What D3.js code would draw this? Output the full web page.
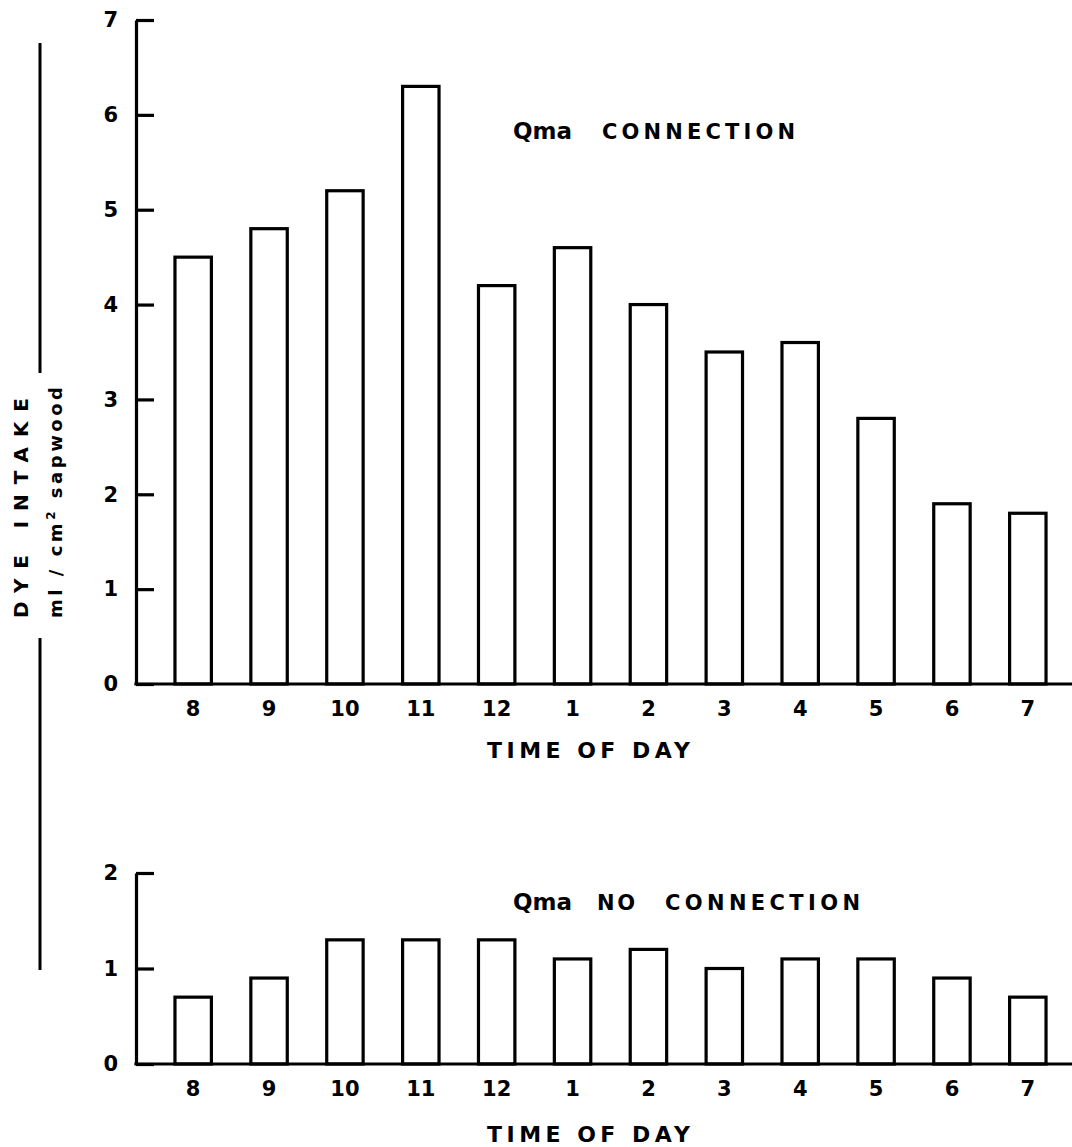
<!DOCTYPE html>
<html>
<head>
<meta charset="utf-8">
<script src="https://cdn.jsdelivr.net/npm/d3@7"></script>
<style>
  body { margin: 0; background: #fff; }
  text { font-family: "DejaVu Sans", sans-serif; font-weight: bold; fill: #000; }
  .tick text { font-family: "DejaVu Sans", sans-serif; }
</style>
</head>
<body>
<svg id="chart" width="1072" height="1147"></svg>
<script>
// time of day, 8 am to 7 pm
const hours = ["8", "9", "10", "11", "12", "1", "2", "3", "4", "5", "6", "7"];
const connection = [4.5, 4.8, 5.2, 6.3, 4.2, 4.6, 4.0, 3.5, 3.6, 2.8, 1.9, 1.8];
const noConnection = [0.7, 0.9, 1.3, 1.3, 1.3, 1.1, 1.2, 1.0, 1.1, 1.1, 0.9, 0.7];
const topTicks = [0, 1, 2, 3, 4, 5, 6, 7];
const bottomTicks = [0, 1, 2];

const svg = d3.select("#chart");
const axisX = 136;

const x = d3.scaleBand()
  .domain(hours)
  .range([156, 1065])
  .paddingInner(0.52)
  .paddingOuter(0.25);

function drawPanel(values, yDomain, yRange, ticks, title) {
  const y = d3.scaleLinear().domain(yDomain).range(yRange);

  // bars
  svg.append("g")
    .selectAll("rect")
    .data(values)
    .join("rect")
    .attr("x", (d, i) => x(hours[i]))
    .attr("y", d => y(d))
    .attr("width", x.bandwidth())
    .attr("height", d => y(0) - y(d))
    .attr("fill", "#fff")
    .attr("stroke", "#000")
    .attr("stroke-width", 3.2);

  // y axis, ticks pointing inward
  const gy = svg.append("g")
    .attr("transform", "translate(" + axisX + ",0)")
    .call(d3.axisLeft(y).tickValues(ticks).tickFormat(d3.format("d"))
      .tickSizeInner(-18).tickSizeOuter(0).tickPadding(18));
  gy.select(".domain").attr("stroke-width", 3.2);
  gy.selectAll(".tick line").attr("stroke-width", 3.2);
  gy.selectAll(".tick text").attr("font-size", 21).attr("font-family", null);

  // x axis baseline runs to the edge
  svg.append("line")
    .attr("x1", axisX - 1.6).attr("x2", 1072)
    .attr("y1", y(0)).attr("y2", y(0))
    .attr("stroke", "#000").attr("stroke-width", 3.2);

  const gx = svg.append("g")
    .attr("transform", "translate(0," + y(0) + ")")
    .call(d3.axisBottom(x).tickSize(0).tickPadding(17));
  gx.select(".domain").remove();
  gx.selectAll(".tick text").attr("font-size", 21).attr("font-family", null);

  // panel title
  title.forEach(t => {
    svg.append("text")
      .attr("x", t.x).attr("y", t.y)
      .attr("font-size", t.f)
      .attr("textLength", t.w)
      .attr("lengthAdjust", "spacing")
      .text(t.s);
  });
}

drawPanel(connection, [0, 7], [684, 20], topTicks, [
  { s: "Qma", x: 513, y: 139, w: 59, f: 23 },
  { s: "CONNECTION", x: 602, y: 139, w: 193, f: 21 }
]);

drawPanel(noConnection, [0, 2], [1064, 873], bottomTicks, [
  { s: "Qma", x: 513, y: 910, w: 59, f: 23 },
  { s: "NO", x: 597, y: 910, w: 38, f: 21 },
  { s: "CONNECTION", x: 665, y: 910, w: 195, f: 21 }
]);

// x axis titles
[758, 1142].forEach(yy => {
  svg.append("text")
    .attr("x", 487).attr("y", yy)
    .attr("font-size", 22)
    .attr("textLength", 203)
    .attr("lengthAdjust", "spacing")
    .text("TIME OF DAY");
});

// shared y axis title with bracket lines
svg.append("line")
  .attr("x1", 40).attr("x2", 40).attr("y1", 43).attr("y2", 373)
  .attr("stroke", "#000").attr("stroke-width", 3);
svg.append("line")
  .attr("x1", 40).attr("x2", 40).attr("y1", 638).attr("y2", 970)
  .attr("stroke", "#000").attr("stroke-width", 3);

svg.append("text")
  .attr("transform", "translate(28,618) rotate(-90)")
  .attr("font-size", 20)
  .attr("textLength", 220)
  .attr("lengthAdjust", "spacing")
  .text("DYE INTAKE");

const unit = svg.append("text")
  .attr("transform", "translate(62,618) rotate(-90)")
  .attr("font-size", 18)
  .attr("textLength", 231)
  .attr("lengthAdjust", "spacing");
unit.append("tspan").text("ml / cm");
unit.append("tspan").attr("dy", -7).attr("font-size", 12).text("2");
unit.append("tspan").attr("dy", 7).text(" sapwood");
</script>
</body>
</html>
